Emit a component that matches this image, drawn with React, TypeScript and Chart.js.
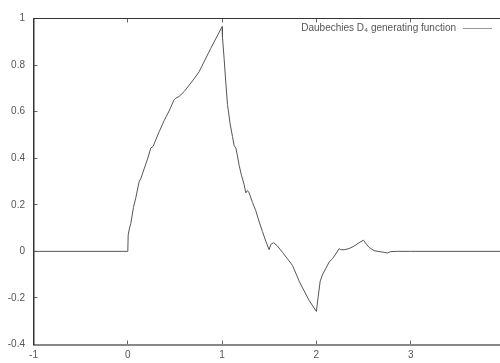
import { useEffect, useRef } from "react";
import { Chart, registerables } from "chart.js";

Chart.register(...registerables);

const seriesLabel = "Daubechies D₄ generating function";

const xValues = [
  -1, 0, 0.004, 0.018, 0.032, 0.06, 0.085, 0.12, 0.138, 0.173, 0.209, 0.244, 0.269,
  0.297, 0.332, 0.385, 0.438, 0.491, 0.509, 0.544, 0.597, 0.65, 0.703, 0.756, 0.88,
  1.0, 1.004, 1.022, 1.039, 1.057, 1.085, 1.11, 1.128, 1.145, 1.163, 1.181, 1.205,
  1.234, 1.251, 1.269, 1.287, 1.322, 1.357, 1.393, 1.428, 1.463, 1.499, 1.516, 1.545,
  1.587, 1.64, 1.693, 1.746, 1.782, 1.817, 1.87, 1.923, 2.0, 2.018, 2.04, 2.064, 2.1,
  2.135, 2.17, 2.206, 2.241, 2.259, 2.294, 2.347, 2.4, 2.453, 2.499, 2.524, 2.559,
  2.612, 2.665, 2.718, 2.754, 2.789, 2.859, 3, 4,
];

const yValues = [
  0, 0, 0.07, 0.1, 0.12, 0.189, 0.23, 0.299, 0.313, 0.354, 0.396, 0.444, 0.451,
  0.479, 0.513, 0.561, 0.603, 0.651, 0.658, 0.665, 0.686, 0.713, 0.741, 0.771, 0.872,
  0.965, 0.92, 0.824, 0.727, 0.631, 0.548, 0.493, 0.454, 0.444, 0.41, 0.369, 0.327,
  0.286, 0.251, 0.261, 0.251, 0.21, 0.175, 0.127, 0.085, 0.044, 0.007, 0.03, 0.037,
  0.023, -0.004, -0.032, -0.06, -0.094, -0.128, -0.17, -0.211, -0.258, -0.198, -0.128,
  -0.101, -0.073, -0.046, -0.032, -0.011, 0.012, 0.007, 0.007, 0.012, 0.023, 0.037,
  0.048, 0.034, 0.017, 0.003, -0.001, -0.004, -0.007, -0.001, 0, 0, 0,
];

const xTickValues = [-1, 0, 1, 2, 3, 4];
const yTickValues = [-0.4, -0.2, 0, 0.2, 0.4, 0.6, 0.8, 1];

const FONT = '"Liberation Sans", Arial, sans-serif';

const keyPlugin = {
  id: "gnuplotKey",
  afterDraw(chart: any) {
    const ctx = chart.ctx as CanvasRenderingContext2D;
    const ds = chart.data.datasets[0];
    const area = chart.chartArea;
    ctx.save();
    ctx.font = `10px ${FONT}`;
    ctx.fillStyle = "#555";
    ctx.textAlign = "right";
    ctx.textBaseline = "middle";
    const y = area.top + 9.5;
    const lineRight = area.right - 13;
    const lineLeft = lineRight - 29;
    ctx.fillText(ds.label, lineLeft - 7, y);
    ctx.strokeStyle = "#999";
    ctx.lineWidth = 1;
    ctx.beginPath();
    ctx.moveTo(lineLeft, Math.round(y) + 0.5);
    ctx.lineTo(lineRight, Math.round(y) + 0.5);
    ctx.stroke();
    ctx.restore();
  },
};

const fmt = (v: any) => String(Number(Number(v).toFixed(1)));

export default function App() {
  const ref = useRef<HTMLCanvasElement>(null);

  useEffect(() => {
    const tickFont = { family: FONT, size: 10 };
    const setX = (s: any) => {
      s.ticks = xTickValues.map((v) => ({ value: v }));
    };
    const setY = (s: any) => {
      s.ticks = yTickValues.map((v) => ({ value: v }));
    };
    const chart = new Chart(ref.current!, {
      type: "scatter",
      data: {
        datasets: [
          {
            label: seriesLabel,
            data: xValues.map((x, i) => ({ x, y: yValues[i] })),
            showLine: true,
            borderColor: "#555",
            borderWidth: 1,
            pointRadius: 0,
            tension: 0,
          },
        ],
      },
      options: {
        animation: false,
        responsive: false,
        maintainAspectRatio: false,
        layout: { padding: 0 },
        plugins: {
          legend: { display: false },
          tooltip: { enabled: false },
        },
        scales: {
          x: {
            type: "linear",
            position: "bottom",
            min: -1,
            max: 4,
            afterBuildTicks: setX,
            afterFit: (s: any) => {
              s.height = 14.5;
            },
            grid: { drawOnChartArea: false, tickLength: -4, color: "#666" },
            border: { color: "#888", width: 2 },
            ticks: {
              padding: 9,
              font: tickFont,
              color: "#555",
              maxRotation: 0,
              autoSkip: false,
              callback: fmt,
            },
          },
          x2: {
            type: "linear",
            position: "top",
            min: -1,
            max: 4,
            afterBuildTicks: setX,
            afterFit: (s: any) => {
              s.height = 10.5;
            },
            grid: { drawOnChartArea: false, tickLength: -4, color: "#666" },
            border: { color: "#333", width: 1 },
            ticks: { display: false },
          },
          y: {
            type: "linear",
            position: "left",
            min: -0.4,
            max: 1,
            afterBuildTicks: setY,
            afterFit: (s: any) => {
              s.width = 33.5;
            },
            grid: { drawOnChartArea: false, tickLength: -4, color: "#666" },
            border: { color: "#333", width: 1.5 },
            ticks: {
              padding: 12.5,
              font: tickFont,
              color: "#555",
              autoSkip: false,
              callback: fmt,
            },
          },
          y2: {
            type: "linear",
            position: "right",
            min: -0.4,
            max: 1,
            afterBuildTicks: setY,
            afterFit: (s: any) => {
              s.width = 15;
            },
            grid: { drawOnChartArea: false, tickLength: -5, color: "#666" },
            border: { color: "#333", width: 1 },
            ticks: { display: false },
          },
        },
      },
      plugins: [keyPlugin],
    });
    return () => chart.destroy();
  }, []);

  return (
    <div
      style={{
        position: "fixed",
        left: 0,
        top: 0,
        width: 500,
        height: 363,
        overflow: "hidden",
        background: "#fff",
      }}
    >
      <canvas ref={ref} width={520} height={363} style={{ display: "block" }} />
    </div>
  );
}
